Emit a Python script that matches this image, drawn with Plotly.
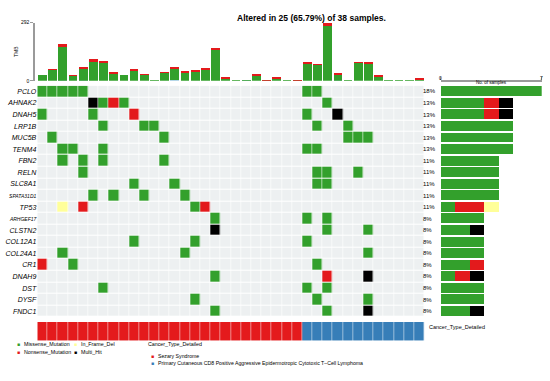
import numpy as np
import plotly.graph_objects as go

W, H = 550, 381

# ---------------- data ----------------
genes = ["PCLO", "AHNAK2", "DNAH5", "LRP1B", "MUC5B", "TENM4", "FBN2", "RELN",
         "SLC8A1", "SPATA31D1", "TP53", "ARHGEF17", "CLSTN2", "COL12A1",
         "COL24A1", "CR1", "DNAH9", "DST", "DYSF", "FNDC1"]
small_label_genes = ["SPATA31D1", "ARHGEF17"]

# sample (column) indices mutated in each gene, and mutation type per hit
# M = Missense_Mutation, N = Nonsense_Mutation, F = In_Frame_Del, H = Multi_Hit
mut_samples = [
    [0, 1, 2, 3, 4, 26, 27],
    [5, 6, 7, 8, 28],
    [0, 5, 9, 26, 29],
    [6, 10, 11, 27, 30],
    [1, 12, 30, 31, 32],
    [2, 3, 6, 26, 27],
    [2, 4, 6, 12],
    [4, 27, 28, 31],
    [9, 13, 27, 28],
    [5, 7, 10, 14],
    [2, 4, 15, 16],
    [17, 26, 28],
    [17, 28, 32],
    [9, 15, 26],
    [2, 14, 32],
    [0, 3, 27],
    [17, 28, 32],
    [6, 26, 28],
    [15, 27, 32],
    [17, 28, 32],
]
mut_types = ["MMMMMMM", "HMNMM", "MMNMH", "MMMMM", "MMMMM", "MMMMM", "MMMM",
             "MMMM", "MMMM", "MMMM", "FNMN", "MMM", "HMM", "MMM", "MMM", "NMM",
             "MNH", "MMM", "MMM", "MMH"]

n_samples = 38
sample_cancer_type = ["Sezary Syndrome"] * 26 + \
    ["Primary Cutaneous CD8 Positive Aggressive Epidermotropic Cytotoxic T\u2013Cell Lymphoma"] * 12

tmb_missense = [33, 57, 171, 28, 61, 100, 93, 39, 30, 53, 31, 7, 42, 60, 45, 47, 57, 157,
                14, 6, 2, 30, 2, 14, 2, 1, 90, 82, 279, 33, 6, 92, 89, 22, 4, 4, 4, 10]
tmb_nonsense = [0, 3, 11, 2, 3, 10, 5, 2, 0, 4, 2, 0, 1, 4, 1, 4, 4, 7,
                4, 0, 0, 3, 1, 2, 0, 2, 5, 3, 13, 2, 0, 3, 3, 4, 0, 0, 0, 1]
tmb_other = [0, 0, 2, 0, 2, 0, 0, 0, 0, 0, 0, 0, 0, 4, 0, 0, 0, 0,
             0, 0, 2, 0, 0, 0, 0, 0, 0, 0, 0, 2, 0, 0, 0, 0, 0, 0, 0, 0]
tmb_max = 292
samples_axis_max = 7

type_order = ["M", "N", "F", "H"]
type_names = {"M": "Missense_Mutation", "N": "Nonsense_Mutation",
              "F": "In_Frame_Del", "H": "Multi_Hit"}
type_colors = {"M": "#33A02C", "N": "#E31A1C", "F": "#FFFF99", "H": "#000000"}
other_cancer_color = "#377EB8"
bg_cell = "#EDF0F1"

# ---------------- helpers ----------------
def px(x):
    return x / W

def py(y):
    return 1 - y / H

codes = {"M": 1, "N": 2, "F": 3, "H": 4}
z = np.zeros((len(genes), n_samples))
for i, (cols, types) in enumerate(zip(mut_samples, mut_types)):
    for c, t in zip(cols, types):
        z[i, c] = codes[t]

cs = [[0.0, bg_cell], [0.2, bg_cell],
      [0.2, type_colors["M"]], [0.4, type_colors["M"]],
      [0.4, type_colors["N"]], [0.6, type_colors["N"]],
      [0.6, type_colors["F"]], [0.8, type_colors["F"]],
      [0.8, type_colors["H"]], [1.0, type_colors["H"]]]

fig = go.Figure()

# oncoplot matrix
fig.add_trace(go.Heatmap(z=z, x=list(range(n_samples)), y=list(range(len(genes))),
                         colorscale=cs, zmin=-0.5, zmax=4.5, xgap=0.6, ygap=1,
                         showscale=False, hoverinfo="skip", xaxis="x", yaxis="y"))

# TMB bars
xs = list(range(n_samples))
for vals, col in [(tmb_other, "#9ecae1"), (tmb_missense, type_colors["M"]),
                  (tmb_nonsense, type_colors["N"])]:
    fig.add_trace(go.Bar(x=xs, y=vals, marker_color=col, width=0.86,
                         marker_line_width=0, xaxis="x2", yaxis="y2",
                         showlegend=False, hoverinfo="skip"))

# annotation bar
ct_unique = list(dict.fromkeys(sample_cancer_type))
ct_z = [[ct_unique.index(c) for c in sample_cancer_type]]
fig.add_trace(go.Heatmap(z=ct_z, x=xs, y=[0],
                         colorscale=[[0, "#E41A1C"], [0.5, "#E41A1C"],
                                     [0.5, other_cancer_color], [1, other_cancer_color]],
                         zmin=0, zmax=1, xgap=0.5, showscale=False, hoverinfo="skip",
                         xaxis="x3", yaxis="y3"))

# right side bars (number of samples per gene by type)
for t in type_order:
    counts = [ty.count(t) for ty in mut_types]
    fig.add_trace(go.Bar(x=counts, y=list(range(len(genes))), orientation="h",
                         marker_color=type_colors[t], width=0.86,
                         marker_line_width=0, xaxis="x4", yaxis="y4",
                         showlegend=False, hoverinfo="skip"))

# ---------------- layout ----------------
ticktext = []
for g in genes:
    if g in small_label_genes:
        ticktext.append('<i><span style="font-size:5px">%s</span></i>' % g)
    else:
        ticktext.append("<i>%s</i>" % g)

col_w = (424.5 - 37.3) / n_samples
font_family = "Liberation Sans, Arial, sans-serif"

fig.update_layout(
    width=W, height=H, autosize=False,
    margin=dict(l=0, r=0, t=0, b=0),
    paper_bgcolor="white", plot_bgcolor="white",
    barmode="stack", bargap=0, showlegend=False,
    font=dict(family=font_family, color="black"),
    xaxis=dict(domain=[px(37.3), px(424.5)], range=[-0.5, n_samples - 0.5],
               visible=False, anchor="y"),
    yaxis=dict(domain=[py(319), py(84)], range=[len(genes) - 0.5, -0.5],
               tickvals=list(range(len(genes))), ticktext=ticktext,
               ticks="", showgrid=False, zeroline=False, showline=False,
               tickfont=dict(size=7, family=font_family), anchor="x"),
    xaxis2=dict(domain=[px(35), px(424.5)],
                range=[-0.5 - 2.3 / col_w, n_samples - 0.5],
                visible=False, anchor="y2"),
    yaxis2=dict(domain=[py(79), py(20)], range=[0, tmb_max],
                tickvals=[0, tmb_max], showgrid=False, zeroline=False,
                showline=True, linecolor="#9a9a9a", linewidth=1.5,
                ticks="outside", ticklen=3, tickcolor="#9a9a9a",
                tickfont=dict(size=5), anchor="x2",
                title=dict(text="TMB", font=dict(size=5), standoff=2)),
    xaxis3=dict(domain=[px(37.3), px(424.5)], range=[-0.5, n_samples - 0.5],
                visible=False, anchor="y3"),
    yaxis3=dict(domain=[py(343), py(324)], range=[-0.5, 0.5],
                visible=False, anchor="x3"),
    xaxis4=dict(domain=[px(440.7), px(541.7)], range=[0, samples_axis_max], side="top",
                tickvals=[0, samples_axis_max], showticklabels=False,
                showgrid=False, zeroline=False,
                showline=True, linecolor="#9a9a9a", linewidth=1.5,
                ticks="outside", ticklen=3, tickcolor="#9a9a9a", anchor="y4"),
    yaxis4=dict(domain=[py(319), py(80.5)],
                range=[len(genes) - 0.5, -0.5 - 3.5 / 11.75],
                visible=False, anchor="x4"),
)

ann = []
ann.append(dict(text="<b>Altered in 25 (65.79%) of 38 samples.</b>",
                x=px(311), y=py(8), xref="paper", yref="paper",
                showarrow=False, font=dict(size=8.5, family="Liberation Sans, Arial")))

for i, cols in enumerate(mut_samples):
    pct = int(round(100 * len(cols) / n_samples))
    ann.append(dict(text="%d%%" % pct, x=px(421), y=i, xref="paper", yref="y",
                    xanchor="left", showarrow=False, font=dict(size=6)))

# right axis tick labels and title
for v in [0, samples_axis_max]:
    ann.append(dict(text=str(v), x=v, y=py(71), xref="x4", yref="paper",
                    showarrow=False, font=dict(size=5)))
ann.append(dict(text="No. of samples", x=samples_axis_max / 2, y=py(76.5), xref="x4",
                yref="paper", showarrow=False, font=dict(size=4.5)))

ann.append(dict(text="Cancer_Type_Detailed", x=px(427), y=py(334), xref="paper",
                yref="paper", xanchor="left", showarrow=False, font=dict(size=5.5)))

legend_items = [("M", 18.5, 351.5), ("F", 75, 351.5), ("N", 18.5, 360), ("H", 75, 360)]
for t, lx, ly in legend_items:
    ann.append(dict(text="\u25A0", x=px(lx), y=py(ly), xref="paper", yref="paper",
                    xanchor="center", showarrow=False,
                    font=dict(size=5, color=type_colors[t])))
    ann.append(dict(text=type_names[t], x=px(lx + 3.5), y=py(ly), xref="paper",
                    yref="paper", xanchor="left", showarrow=False, font=dict(size=5.3)))

ann.append(dict(text="Cancer_Type_Detailed", x=px(145.5), y=py(351.5), xref="paper",
                yref="paper", xanchor="left", showarrow=False, font=dict(size=5.3)))
for k, (name, ly) in enumerate(zip(ct_unique, [364, 371])):
    colr = "#E41A1C" if k == 0 else other_cancer_color
    ann.append(dict(text="\u25A0", x=px(152.5), y=py(ly), xref="paper", yref="paper",
                    xanchor="center", showarrow=False, font=dict(size=5, color=colr)))
    ann.append(dict(text=name, x=px(156), y=py(ly), xref="paper", yref="paper",
                    xanchor="left", showarrow=False, font=dict(size=5.2)))

fig.update_layout(annotations=ann)

fig.write_html("out.html", config={"displayModeBar": False},
               post_script="document.body.style.margin='0';")
